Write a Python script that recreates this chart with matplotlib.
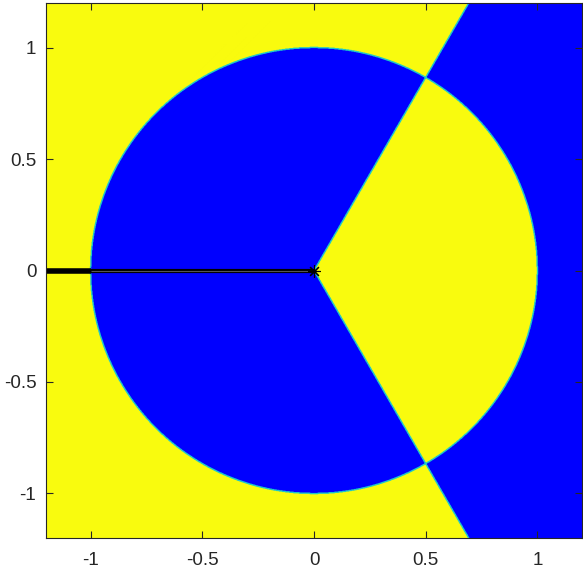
import numpy as np
import matplotlib
matplotlib.use("Agg")
import matplotlib.pyplot as plt
from matplotlib.colors import ListedColormap

# region definition
circle_radius = 1.0
sector_edges_deg = [-60.0, 60.0]
axis_limits = [-1.2, 1.2]
ticks = [-1, -0.5, 0, 0.5, 1]
tick_labels = ["-1", "-0.5", "0", "0.5", "1"]
cut_outer = [-1.2, -1.0]
cut_inner = [-1.0, 0.0]
region_colors = ["#f9fb0e", "#0000ff"]
edge_color = "#1fc8c8"

plt.rcParams['font.family'] = ['Liberation Sans', 'DejaVu Sans']

fig = plt.figure(figsize=(5.83, 5.71), dpi=100)
ax = fig.add_axes([46/583, 33/571, 536/583, 535/571])

n = 1200
xs = np.linspace(axis_limits[0], axis_limits[1], n)
ys = np.linspace(axis_limits[0], axis_limits[1], n)
X, Y = np.meshgrid(xs, ys)
R = np.hypot(X, Y)
T = np.degrees(np.arctan2(Y, X))
inside = R < circle_radius
in_sector = (T > sector_edges_deg[0]) & (T < sector_edges_deg[1])
Z = (inside != in_sector).astype(float)

ax.imshow(Z, origin='lower', extent=[axis_limits[0], axis_limits[1], axis_limits[0], axis_limits[1]],
          cmap=ListedColormap(region_colors), interpolation='nearest', aspect='auto')
ax.contour(X, Y, Z, levels=[0.5], colors=[edge_color], linewidths=1.0)

# branch cut along negative real axis
ax.plot(cut_outer, [0, 0], color='black', lw=4.0, solid_capstyle='butt')
ax.plot(cut_inner, [0, 0], color='black', lw=3.0, solid_capstyle='butt')
ax.plot(cut_inner, [0, 0], color='#555555', lw=0.8, solid_capstyle='butt')
ax.plot([0], [0], marker=(8, 2, 0), color='black', markersize=9, markeredgewidth=0.8)

ax.set_xlim(axis_limits)
ax.set_ylim(axis_limits)
ax.set_xticks(ticks)
ax.set_xticklabels(tick_labels)
ax.set_yticks(ticks)
ax.set_yticklabels(tick_labels)
ax.tick_params(direction='in', length=5, width=0.8, top=True, right=True,
               labelsize=13.5, colors='#262626')
ax.tick_params(axis='x', pad=10)
ax.tick_params(axis='y', pad=7)
for s in ax.spines.values():
    s.set_color('#262626')
    s.set_linewidth(0.8)

fig.savefig('out.png', dpi=100)
